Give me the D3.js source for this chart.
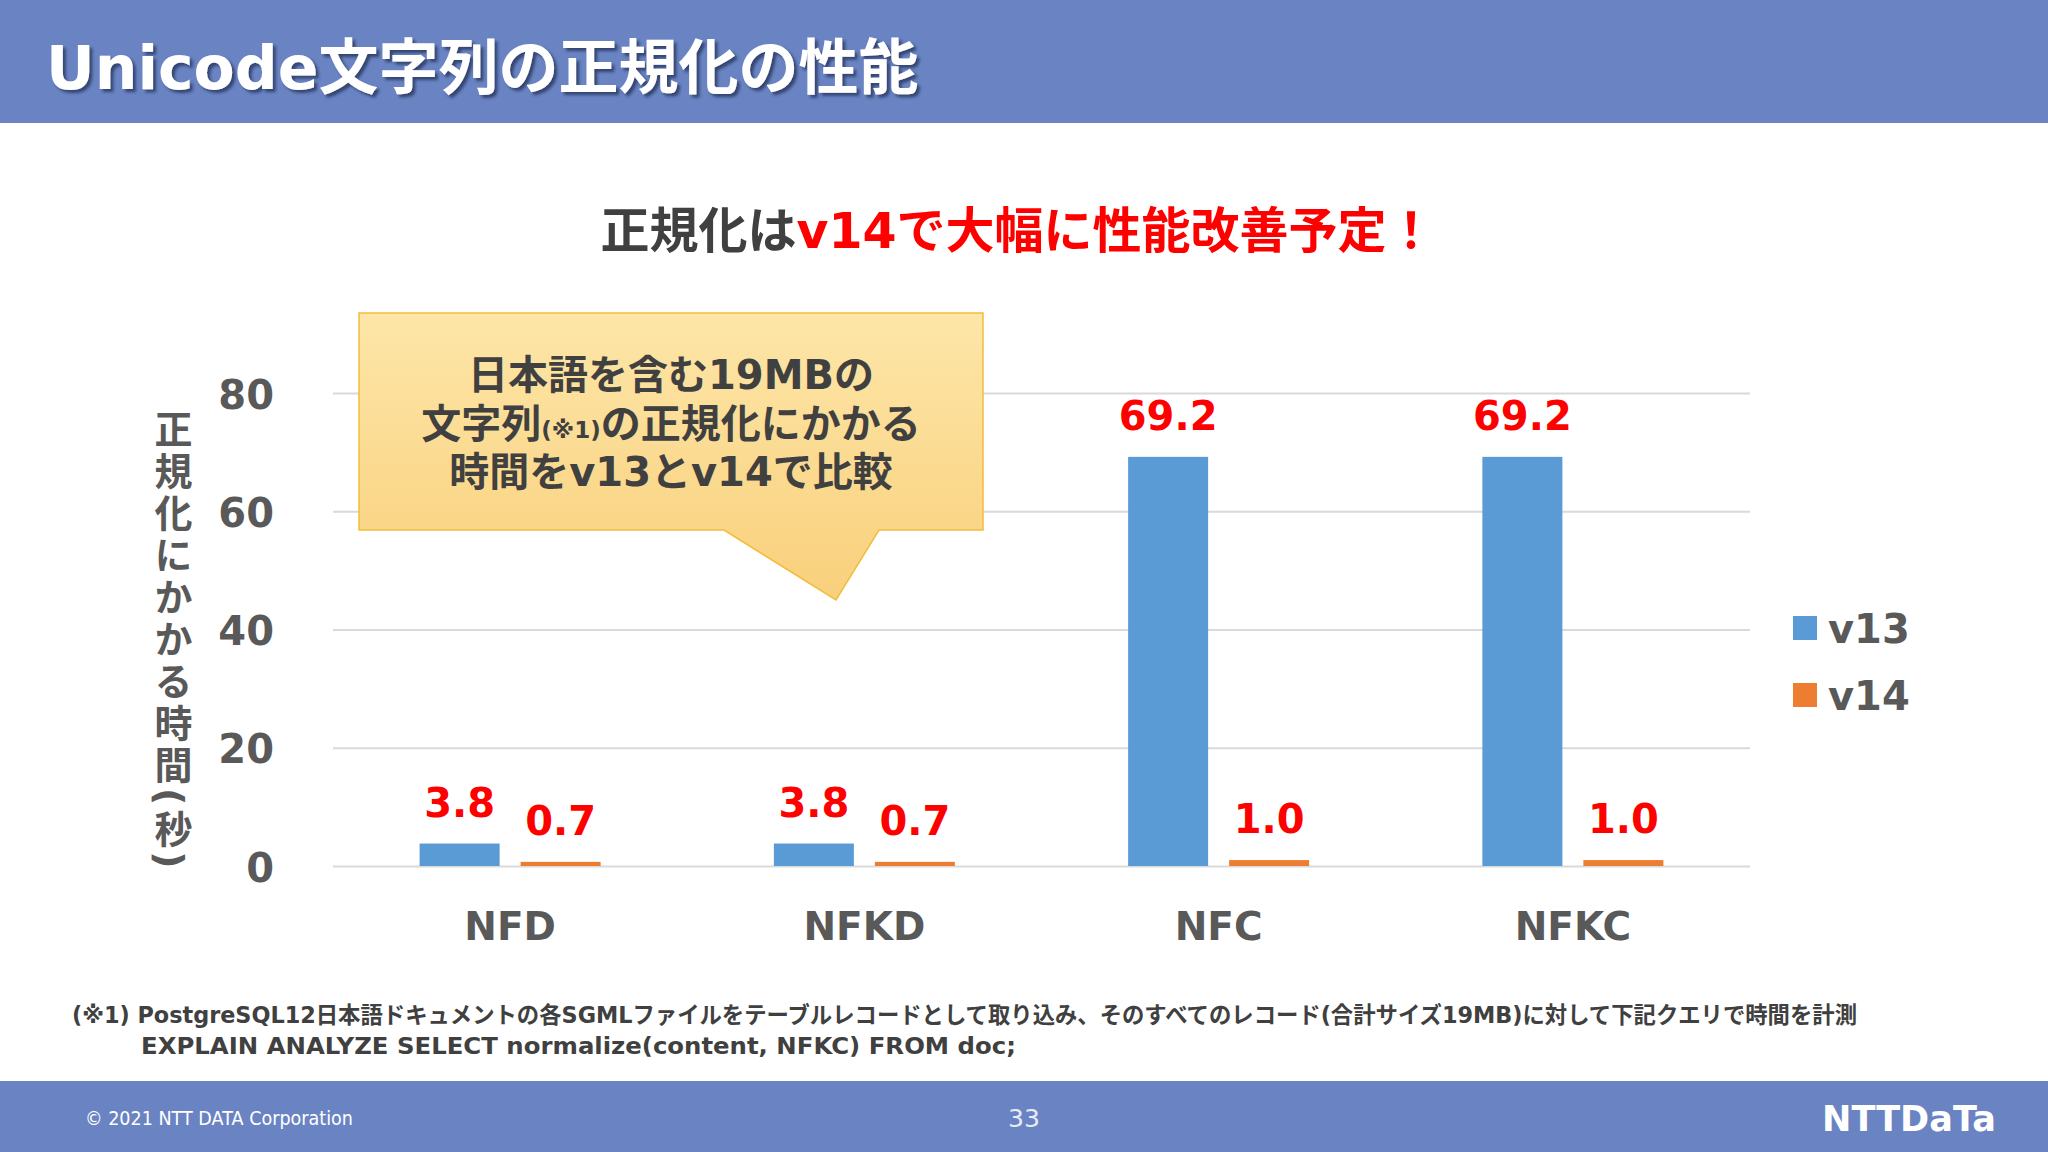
<!DOCTYPE html>
<html>
<head>
<meta charset="utf-8">
<script src="https://cdn.jsdelivr.net/npm/d3@7"></script>
<style>
  html, body { margin: 0; padding: 0; background: #fff; }
  svg { display: block; }
  text { font-family: "DejaVu Sans", "Noto Sans CJK JP", sans-serif; }
</style>
</head>
<body>
<script>
// data
var categories = ['NFD', 'NFKD', 'NFC', 'NFKC'];
var series     = ['v13', 'v14'];
var v13Values  = [3.8, 3.8, 69.2, 69.2];
var v14Values  = [0.7, 0.7, 1.0, 1.0];
var yTicks     = [0, 20, 40, 60, 80];
var colors     = ['#5b9bd5', '#ed7d31'];

var width = 2048, height = 1152;
var band = '#6a84c3';
var grey = '#595959';
var dark = '#404040';
var red  = '#ff0000';

var svg = d3.select('body').append('svg')
  .attr('width', width).attr('height', height);

var defs = svg.append('defs');
var shadow = defs.append('filter').attr('id', 'shadow')
  .attr('x', '-5%').attr('y', '-20%').attr('width', '110%').attr('height', '140%');
shadow.append('feDropShadow').attr('dx', 3).attr('dy', 3).attr('stdDeviation', 1.5)
  .attr('flood-color', '#1e2a50').attr('flood-opacity', 0.7);

var grad = defs.append('linearGradient').attr('id', 'callout')
  .attr('x1', 0).attr('y1', 0).attr('x2', 0).attr('y2', 1);
grad.append('stop').attr('offset', '0%').attr('stop-color', '#fde6a8');
grad.append('stop').attr('offset', '100%').attr('stop-color', '#f9d07c');

// header + footer bands
svg.append('rect').attr('x', 0).attr('y', 0).attr('width', width).attr('height', 123).attr('fill', band);
svg.append('rect').attr('x', 0).attr('y', 1081).attr('width', width).attr('height', 71).attr('fill', band);

svg.append('text')
  .attr('x', 46).attr('y', 89)
  .attr('font-size', 60).attr('font-weight', 'bold').attr('fill', '#fff')
  .attr('filter', 'url(#shadow)')
  .text('Unicode文字列の正規化の性能');

// subtitle
var sub = svg.append('text')
  .attr('x', 1018).attr('y', 248)
  .attr('text-anchor', 'middle')
  .attr('font-size', 49).attr('font-weight', 'bold');
sub.append('tspan').attr('fill', dark).text('正規化は');
sub.append('tspan').attr('fill', red).text('v14で大幅に性能改善予定！');

// scales
var plotLeft = 333, plotRight = 1750;
var y = d3.scaleLinear().domain([0, 80]).range([866, 393]);
var x0 = d3.scaleBand().domain(categories).range([plotLeft, plotRight])
  .paddingInner(0.489).paddingOuter(0.2445);
var x1 = d3.scaleBand().domain(series).range([0, x0.bandwidth()]).paddingInner(0.208);

// grid + y labels
var yAxis = svg.append('g')
  .attr('transform', 'translate(' + plotLeft + ',0)')
  .call(d3.axisLeft(y).tickValues(yTicks).tickSize(-(plotRight - plotLeft)).tickPadding(59));
yAxis.select('.domain').remove();
yAxis.selectAll('.tick line').attr('stroke', '#d9d9d9').attr('stroke-width', 2);
yAxis.selectAll('.tick text')
  .attr('dy', '0.38em')
  .attr('fill', grey).attr('font-size', 40).attr('font-weight', 'bold')
  .attr('font-family', '"DejaVu Sans", sans-serif');

// x labels
var xAxis = svg.append('g')
  .attr('transform', 'translate(0,' + y(0) + ')')
  .call(d3.axisBottom(x0).tickSize(0).tickPadding(46));
xAxis.select('.domain').remove();
xAxis.selectAll('.tick text')
  .attr('fill', grey).attr('font-size', 39).attr('font-weight', 'bold')
  .attr('font-family', '"DejaVu Sans", sans-serif');

// bars
var rows = categories.map(function(c, i) {
  return { cat: c, values: [v13Values[i], v14Values[i]] };
});

var groups = svg.append('g').selectAll('g')
  .data(rows).enter().append('g')
  .attr('transform', function(d) { return 'translate(' + x0(d.cat) + ',0)'; });

groups.selectAll('rect')
  .data(function(d) { return d.values.map(function(v, j) { return { s: series[j], v: v, j: j }; }); })
  .enter().append('rect')
  .attr('x', function(d) { return x1(d.s); })
  .attr('y', function(d) { return y(d.v); })
  .attr('width', x1.bandwidth())
  .attr('height', function(d) { return y(0) - y(d.v); })
  .attr('fill', function(d) { return colors[d.j]; });

groups.selectAll('text')
  .data(function(d) { return d.values.map(function(v, j) { return { s: series[j], v: v }; }); })
  .enter().append('text')
  .attr('x', function(d) { return x1(d.s) + x1.bandwidth() / 2; })
  .attr('y', function(d) { return y(d.v) - 27; })
  .attr('text-anchor', 'middle')
  .attr('fill', red).attr('font-size', 40).attr('font-weight', 'bold')
  .text(function(d) { return d3.format('.1f')(d.v); });

// y title, vertical
svg.append('text')
  .attr('x', 170).attr('y', 410)
  .attr('font-size', 38).attr('font-weight', 'bold').attr('fill', grey)
  .attr('font-family', '"Noto Sans CJK JP", sans-serif')
  .style('writing-mode', 'vertical-rl')
  .style('letter-spacing', '4px')
  .text('正規化にかかる時間(秒)');

// legend
var legend = svg.append('g').selectAll('g')
  .data(series).enter().append('g')
  .attr('transform', function(d, i) { return 'translate(1793,' + (616 + i * 67) + ')'; });
legend.append('rect').attr('width', 24).attr('height', 24)
  .attr('fill', function(d, i) { return colors[i]; });
legend.append('text').attr('x', 35).attr('y', 27)
  .attr('font-size', 40).attr('font-weight', 'bold').attr('fill', grey)
  .text(function(d) { return d; });

// callout
var callout = svg.append('g');
callout.append('path')
  .attr('d', 'M359,313 L983,313 L983,530 L879,530 L836,600 L724,530 L359,530 Z')
  .attr('fill', 'url(#callout)').attr('stroke', '#f2bd3c').attr('stroke-width', 1.5);

var lines = callout.append('g')
  .attr('text-anchor', 'middle').attr('fill', dark)
  .attr('font-size', 40).attr('font-weight', 'bold');
lines.append('text').attr('x', 671).attr('y', 389).text('日本語を含む19MBの');
var l2 = lines.append('text').attr('x', 671).attr('y', 438);
l2.append('tspan').text('文字列');
l2.append('tspan').attr('font-size', 23).text('(※1)');
l2.append('tspan').text('の正規化にかかる');
lines.append('text').attr('x', 671).attr('y', 486).text('時間をv13とv14で比較');

// footnote
svg.append('text')
  .attr('x', 72).attr('y', 1023)
  .attr('font-size', 23).attr('font-weight', 'bold').attr('fill', dark)
  .attr('textLength', 1785).attr('lengthAdjust', 'spacingAndGlyphs')
  .text('(※1) PostgreSQL12日本語ドキュメントの各SGMLファイルをテーブルレコードとして取り込み、そのすべてのレコード(合計サイズ19MB)に対して下記クエリで時間を計測');
svg.append('text')
  .attr('x', 141).attr('y', 1054)
  .attr('font-size', 23).attr('font-weight', 'bold').attr('fill', dark)
  .attr('textLength', 875).attr('lengthAdjust', 'spacingAndGlyphs')
  .text('EXPLAIN ANALYZE SELECT normalize(content, NFKC) FROM doc;');

// footer texts
svg.append('text')
  .attr('x', 85).attr('y', 1125)
  .attr('font-family', '"Liberation Sans", Arial, sans-serif')
  .attr('font-size', 19).attr('fill', '#fff')
  .attr('textLength', 268).attr('lengthAdjust', 'spacingAndGlyphs')
  .text('© 2021 NTT DATA Corporation');
svg.append('text')
  .attr('x', 1024).attr('y', 1127)
  .attr('text-anchor', 'middle')
  .attr('font-family', '"Liberation Sans", Arial, sans-serif')
  .attr('font-size', 25).attr('fill', '#e8ecf6')
  .text('33');
svg.append('text')
  .attr('x', 1822).attr('y', 1131)
  .attr('font-family', '"Liberation Sans", Arial, sans-serif')
  .attr('font-size', 36).attr('font-weight', 'bold').attr('fill', '#fff')
  .attr('textLength', 174).attr('lengthAdjust', 'spacingAndGlyphs')
  .text('NTTDaTa');
</script>
</body>
</html>
